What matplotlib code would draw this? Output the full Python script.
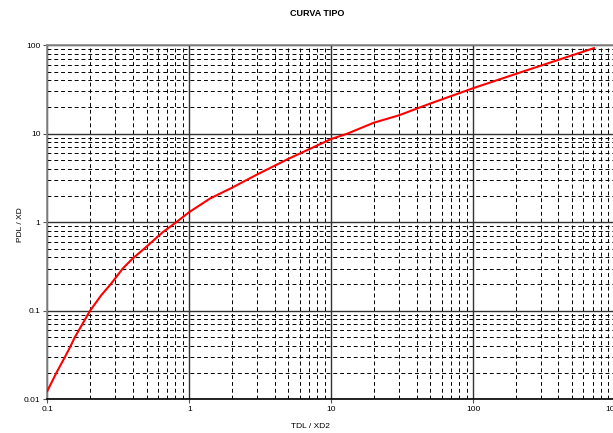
import numpy as np
import matplotlib
matplotlib.use('Agg')
import matplotlib.pyplot as plt
from matplotlib.ticker import LogLocator, NullFormatter, FixedLocator, FixedFormatter

# curve values
tdl = [0.1, 0.116, 0.133, 0.146, 0.156, 0.2, 0.24, 0.28, 0.34, 0.4, 0.48, 0.65, 0.81,
       1.0, 1.4, 2.0, 3.0, 5.0, 10.0, 13.0, 20.0, 30.0, 50.0, 100.0, 214.0, 711.0]
pdl = [0.0124, 0.02, 0.03, 0.04, 0.05, 0.1, 0.15, 0.2, 0.3, 0.39, 0.5, 0.77, 1.0,
       1.3, 1.85, 2.45, 3.45, 5.2, 8.7, 10.0, 13.3, 16.1, 21.9, 32.6, 49.0, 92.5]

x_ticks = [0.1, 1, 10, 100, 1000]
x_labels = ['0.1', '1', '10', '100', '1000']
y_ticks = [0.01, 0.1, 1, 10, 100]
y_labels = ['0.01', '0.1', '1', '10', '100']

plt.rcParams['font.family'] = ['Liberation Sans', 'DejaVu Sans']

fig = plt.figure(figsize=(6.13, 4.33), dpi=100)
ax = fig.add_axes([0.0772, 0.0778, 0.926, 0.818])

ax.set_xscale('log')
ax.set_yscale('log')
ax.set_xlim(0.1, 1000)
ax.set_ylim(0.01, 100)

ax.plot(tdl, pdl, color='#ff0000', lw=1.5, zorder=5)

ax.xaxis.set_major_locator(FixedLocator(x_ticks))
ax.xaxis.set_major_formatter(FixedFormatter(x_labels))
ax.yaxis.set_major_locator(FixedLocator(y_ticks))
ax.yaxis.set_major_formatter(FixedFormatter(y_labels))
ax.xaxis.set_minor_locator(LogLocator(base=10, subs=range(2, 10), numticks=20))
ax.yaxis.set_minor_locator(LogLocator(base=10, subs=range(2, 10), numticks=20))
ax.xaxis.set_minor_formatter(NullFormatter())
ax.yaxis.set_minor_formatter(NullFormatter())

ax.grid(which='major', color='#333333', lw=1.0, ls='-')
ax.grid(which='minor', color='black', lw=0.7, ls=(0, (4, 3)))
ax.set_axisbelow(True)

ax.tick_params(which='major', length=3, width=0.8, labelsize=6, pad=2, color='#555555')
ax.tick_params(which='minor', length=0)

for side in ['top', 'left', 'right']:
    ax.spines[side].set_color('#888888')
    ax.spines[side].set_linewidth(1.2)
ax.spines['bottom'].set_color('black')
ax.spines['bottom'].set_linewidth(1.2)

fig.text(317 / 613, 1 - 13 / 433, 'CURVA TIPO', ha='center', va='center',
         fontsize=6.5, fontweight='bold')
fig.text(310 / 613, 1 - 427 / 433, 'TDL / XD2', ha='center', va='center', fontsize=6)
fig.text(21 / 613, 1 - 225 / 433, 'PDL / XD', ha='center', va='center', fontsize=6,
         rotation=90)

plt.savefig('out.png', dpi=100)
